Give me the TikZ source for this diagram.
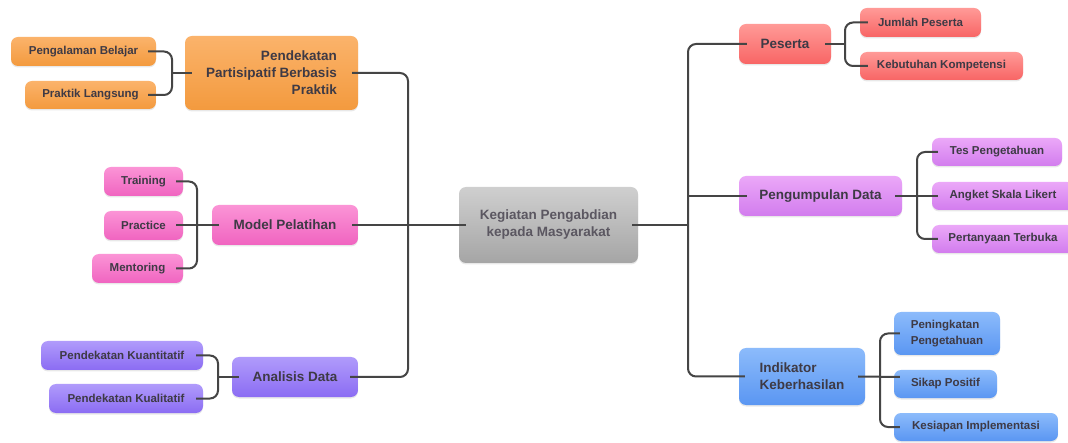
\documentclass[tikz,border=0pt]{standalone}
\usepackage{fontspec}
\setmainfont{Liberation Sans}
\usetikzlibrary{shadows}
\definecolor{txt}{HTML}{3E3A45}
\definecolor{lineC}{HTML}{454545}
\definecolor{orT}{HTML}{FBB36B}\definecolor{orB}{HTML}{F39A3E}
\definecolor{piT}{HTML}{FB94D6}\definecolor{piB}{HTML}{F064C0}
\definecolor{puT}{HTML}{B09BFB}\definecolor{puB}{HTML}{8B6CF3}
\definecolor{reT}{HTML}{FF9A97}\definecolor{reB}{HTML}{F86565}
\definecolor{ocT}{HTML}{EBA8F8}\definecolor{ocB}{HTML}{D27CEE}
\definecolor{blT}{HTML}{8CBBFB}\definecolor{blB}{HTML}{5A96F2}
\definecolor{grT}{HTML}{CFCFCF}\definecolor{grB}{HTML}{A5A5A5}
\tikzset{
  box/.style={rounded corners=7pt, inner sep=0pt, text=txt, draw=none,
    drop shadow={opacity=0.18, shadow xshift=0pt, shadow yshift=-1.5pt}},
  big/.style={box, font=\bfseries\fontsize{13.5}{17}\selectfont},
  small/.style={box, font=\bfseries\fontsize{11.5}{16}\selectfont},
  orng/.style={top color=orT, bottom color=orB},
  pnk/.style={top color=piT, bottom color=piB},
  prp/.style={top color=puT, bottom color=puB},
  rd/.style={top color=reT, bottom color=reB},
  orc/.style={top color=ocT, bottom color=ocB},
  blu/.style={top color=blT, bottom color=blB},
  gry/.style={top color=grT, bottom color=grB},
  conn/.style={draw=lineC, line width=2pt, rounded corners=8pt}
}
\begin{document}
\begin{tikzpicture}[x=1pt,y=-1pt]
\useasboundingbox[fill=white] (0,0) rectangle (1068,443);
% center
\node[big, gry, minimum width=179pt, minimum height=76pt, align=center, text=txt!85] (ctr) at (548.5,225) {Kegiatan Pengabdian\\kepada Masyarakat};
% left branch 1
\node[big, orng, minimum width=173pt, minimum height=74pt, align=right] (pend) at (271.5,73) {Pendekatan\\Partisipatif Berbasis\\Praktik};
\node[small, orng, minimum width=145pt, minimum height=29pt] (pb) at (83.5,51.5) {Pengalaman Belajar};
\node[small, orng, minimum width=131pt, minimum height=28pt] (pl) at (90.5,95) {Praktik Langsung};
% left branch 2
\node[big, pnk, minimum width=146pt, minimum height=40pt] (model) at (285,225) {Model Pelatihan};
\node[small, pnk, minimum width=79pt, minimum height=29pt] (train) at (143.5,181.5) {Training};
\node[small, pnk, minimum width=79pt, minimum height=29pt] (prac) at (143.5,225.5) {Practice};
\node[small, pnk, minimum width=91pt, minimum height=29pt] (ment) at (137.5,268.5) {Mentoring};
% left branch 3
\node[big, prp, minimum width=126pt, minimum height=40pt] (anal) at (295,377) {Analisis Data};
\node[small, prp, minimum width=162pt, minimum height=29pt] (kuan) at (122,355.5) {Pendekatan Kuantitatif};
\node[small, prp, minimum width=154pt, minimum height=29pt] (kual) at (126,398.5) {Pendekatan Kualitatif};
% right branch 1
\node[big, rd, minimum width=92pt, minimum height=40pt] (pes) at (785,44) {Peserta};
\node[small, rd, minimum width=121pt, minimum height=29pt] (jum) at (920.5,22.5) {Jumlah Peserta};
\node[small, rd, minimum width=163pt, minimum height=28pt] (keb) at (941.5,66) {Kebutuhan Kompetensi};
% right branch 2
\node[big, orc, minimum width=163pt, minimum height=40pt] (peng) at (820.5,196) {Pengumpulan Data};
\node[small, orc, minimum width=130pt, minimum height=28pt] (tes) at (997,152) {Tes Pengetahuan};
\node[small, orc, minimum width=142pt, minimum height=28pt] (ang) at (1003,196) {Angket Skala Likert};
\node[small, orc, minimum width=142pt, minimum height=28pt] (pert) at (1003,239) {Pertanyaan Terbuka};
% right branch 3
\node[big, blu, minimum width=126pt, minimum height=57pt, align=left] (ind) at (802,376.5) {Indikator\\Keberhasilan};
\node[small, blu, minimum width=106pt, minimum height=43pt, align=left] (pen) at (947,333.5) {Peningkatan\\Pengetahuan};
\node[small, blu, minimum width=103pt, minimum height=28pt] (sik) at (945.5,384) {Sikap Positif};
\node[small, blu, minimum width=164pt, minimum height=28pt] (kes) at (976,427) {Kesiapan Implementasi};
% coordinates
\coordinate (LT) at (408,225);
\coordinate (RT) at (688,225);
\coordinate (bk1) at (172,73);
\coordinate (bk2) at (197,225);
\coordinate (bk3) at (218,377);
\coordinate (bk4) at (845,44);
\coordinate (bk5) at (917,196);
\coordinate (bk6) at (880,377);
% trunks
\draw[conn] ([xshift=-6pt]pend.east) -| (LT) |- ([xshift=-8pt]anal.east);
\draw[conn] ([xshift=-6pt]model.east) -- ([xshift=7pt]ctr.west);
\draw[conn] ([xshift=8pt]pes.west) -| (RT) |- ([xshift=6pt]ind.west);
\draw[conn] ([xshift=-6pt]ctr.east) -- (RT);
\draw[conn] (RT |- peng.west) -- ([xshift=8pt]peng.west);
% brackets
\draw[conn] ([xshift=-8pt]pb.east) -| (bk1) |- ([xshift=-8pt]pl.east);
\draw[conn] (bk1) -- ([xshift=7pt]pend.west |- bk1);
\draw[conn] ([xshift=-7pt]train.east) -| (bk2) |- ([xshift=-7pt]ment.east);
\draw[conn] ([xshift=-7pt]prac.east |- bk2) -- ([xshift=7pt]model.west);
\draw[conn] ([xshift=-7pt]kuan.east) -| (bk3) |- ([xshift=-7pt]kual.east);
\draw[conn] (bk3) -- ([xshift=7pt]anal.west);
\draw[conn] ([xshift=8pt]jum.west) -| (bk4) |- ([xshift=8pt]keb.west);
\draw[conn] ([xshift=-6pt]pes.east) -- (bk4);
\draw[conn] ([xshift=6pt]tes.west) -| (bk5) |- ([xshift=6pt]pert.west);
\draw[conn] ([xshift=-7pt]peng.east) -- ([xshift=6pt]ang.west);
\draw[conn] ([xshift=6pt]pen.west) -| (bk6) |- ([xshift=6pt]kes.west);
\draw[conn] ([xshift=-7pt]ind.east) -- ([xshift=6pt]sik.west |- bk6);
\end{tikzpicture}
\end{document}
